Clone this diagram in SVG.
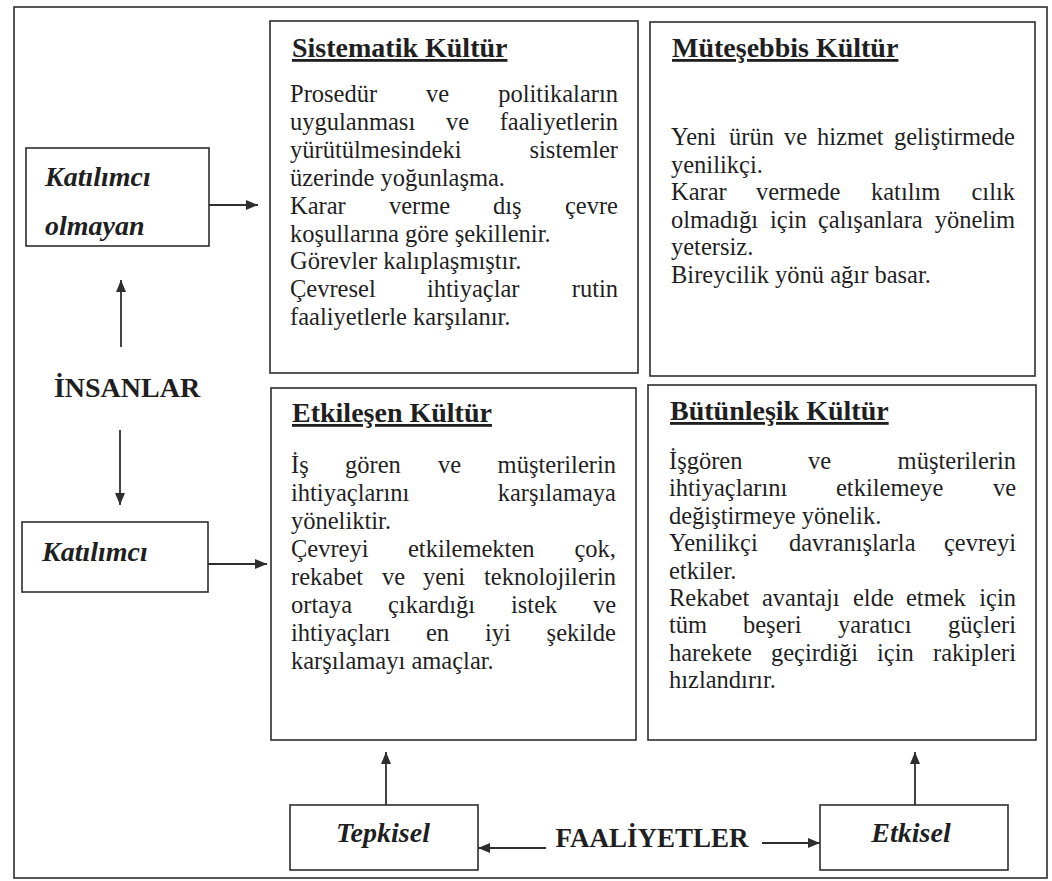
<svg xmlns="http://www.w3.org/2000/svg" width="1052" height="881" viewBox="0 0 1052 881">
  <style>
    .frame { fill: none; stroke: #2e2e2e; stroke-width: 1.6; }
    .box { fill: #ffffff; stroke: #2e2e2e; stroke-width: 1.6; }
    .conn { fill: none; stroke: #2e2e2e; stroke-width: 1.8; }
    text { font-family: "Liberation Serif", "Times New Roman", serif; fill: #1f1f1f; }
    .title { font-size: 28px; font-weight: bold; text-decoration: underline; }
    .body { font-size: 24.5px; }
    .lbl { font-size: 28px; font-weight: bold; font-style: italic; }
    .cap { font-size: 28px; font-weight: bold; }
    .end { text-anchor: end; }
    .mid { text-anchor: middle; }
  </style>
  <defs>
    <marker id="arrow" viewBox="0 0 12 10" refX="12" refY="5" markerWidth="12" markerHeight="10" markerUnits="userSpaceOnUse" orient="auto">
      <path d="M0,0 L12,5 L0,10 Z" fill="#2e2e2e"/>
    </marker>
  </defs>

  <rect width="1052" height="881" fill="#ffffff"/>
  <rect class="frame" x="14" y="7" width="1033" height="871"/>

  <!-- left column: people -->
  <g id="katilimci-olmayan">
    <rect class="box" x="26" y="148" width="183" height="98"/>
    <text class="lbl" x="45" y="186">Katılımcı</text>
    <text class="lbl" x="45" y="235">olmayan</text>
  </g>
  <g id="insanlar">
    <text class="cap mid" x="127" y="397">İNSANLAR</text>
  </g>
  <g id="katilimci">
    <rect class="box" x="22" y="522" width="186" height="70"/>
    <text class="lbl" x="42" y="561">Katılımcı</text>
  </g>

  <!-- culture quadrants -->
  <g id="sistematik">
    <rect class="box" x="270" y="21" width="368" height="352"/>
    <text class="title" x="292" y="57">Sistematik Kültür</text>
    <g class="body">
      <text class="body" x="290" y="102">Prosedür</text>
      <text class="body" x="426" y="102">ve</text>
      <text class="body end" x="618" y="102">politikaların</text>
      <text class="body" x="290" y="130">uygulanması</text>
      <text class="body" x="446" y="130">ve</text>
      <text class="body end" x="618" y="130">faaliyetlerin</text>
      <text class="body" x="290" y="158">yürütülmesindeki</text>
      <text class="body end" x="618" y="158">sistemler</text>
      <text class="body" x="290" y="186">üzerinde yoğunlaşma.</text>
      <text class="body" x="290" y="214">Karar</text>
      <text class="body" x="389" y="214">verme</text>
      <text class="body" x="493" y="214">dış</text>
      <text class="body end" x="618" y="214">çevre</text>
      <text class="body" x="290" y="242">koşullarına göre şekillenir.</text>
      <text class="body" x="290" y="269">Görevler kalıplaşmıştır.</text>
      <text class="body" x="290" y="297">Çevresel</text>
      <text class="body" x="427" y="297">ihtiyaçlar</text>
      <text class="body end" x="618" y="297">rutin</text>
      <text class="body" x="290" y="325">faaliyetlerle karşılanır.</text>
    </g>
  </g>

  <g id="mutesebbis">
    <rect class="box" x="650" y="22" width="385" height="354"/>
    <text class="title" x="672" y="57">Müteşebbis Kültür</text>
    <text class="body" x="671" y="145">Yeni</text>
    <text class="body" x="729" y="145">ürün</text>
    <text class="body" x="784" y="145">ve</text>
    <text class="body" x="817" y="145">hizmet</text>
    <text class="body end" x="1015" y="145">geliştirmede</text>
    <text class="body" x="671" y="173">yenilikçi.</text>
    <text class="body" x="671" y="200">Karar</text>
    <text class="body" x="756" y="200">vermede</text>
    <text class="body" x="871" y="200">katılım</text>
    <text class="body end" x="1015" y="200">cılık</text>
    <text class="body" x="671" y="228">olmadığı</text>
    <text class="body" x="770" y="228">için</text>
    <text class="body" x="818" y="228">çalışanlara</text>
    <text class="body end" x="1015" y="228">yönelim</text>
    <text class="body" x="671" y="255">yetersiz.</text>
    <text class="body" x="671" y="283">Bireycilik yönü ağır basar.</text>
  </g>

  <g id="etkilesen">
    <rect class="box" x="271" y="388" width="365" height="352"/>
    <text class="title" x="292" y="422">Etkileşen Kültür</text>
    <text class="body" x="291" y="473">İş</text>
    <text class="body" x="345" y="473">gören</text>
    <text class="body" x="438" y="473">ve</text>
    <text class="body end" x="616" y="473">müşterilerin</text>
    <text class="body" x="291" y="501">ihtiyaçlarını</text>
    <text class="body end" x="616" y="501">karşılamaya</text>
    <text class="body" x="291" y="529">yöneliktir.</text>
    <text class="body" x="291" y="557">Çevreyi</text>
    <text class="body" x="408" y="557">etkilemekten</text>
    <text class="body end" x="616" y="557">çok,</text>
    <text class="body" x="291" y="585">rekabet</text>
    <text class="body" x="382" y="585">ve</text>
    <text class="body" x="423" y="585">yeni</text>
    <text class="body end" x="616" y="585">teknolojilerin</text>
    <text class="body" x="291" y="613">ortaya</text>
    <text class="body" x="388" y="613">çıkardığı</text>
    <text class="body" x="511" y="613">istek</text>
    <text class="body end" x="616" y="613">ve</text>
    <text class="body" x="291" y="641">ihtiyaçları</text>
    <text class="body" x="426" y="641">en</text>
    <text class="body" x="485" y="641">iyi</text>
    <text class="body end" x="616" y="641">şekilde</text>
    <text class="body" x="291" y="669">karşılamayı amaçlar.</text>
  </g>

  <g id="butunlesik">
    <rect class="box" x="648" y="385" width="388" height="355"/>
    <text class="title" x="670" y="420">Bütünleşik Kültür</text>
    <text class="body" x="669" y="469">İşgören</text>
    <text class="body" x="808" y="469">ve</text>
    <text class="body end" x="1016" y="469">müşterilerin</text>
    <text class="body" x="669" y="496">ihtiyaçlarını</text>
    <text class="body" x="836" y="496">etkilemeye</text>
    <text class="body end" x="1016" y="496">ve</text>
    <text class="body" x="669" y="524">değiştirmeye yönelik.</text>
    <text class="body" x="669" y="551">Yenilikçi</text>
    <text class="body" x="789" y="551">davranışlarla</text>
    <text class="body end" x="1016" y="551">çevreyi</text>
    <text class="body" x="669" y="579">etkiler.</text>
    <text class="body" x="669" y="606">Rekabet</text>
    <text class="body" x="762" y="606">avantajı</text>
    <text class="body" x="853" y="606">elde</text>
    <text class="body" x="906" y="606">etmek</text>
    <text class="body end" x="1016" y="606">için</text>
    <text class="body" x="669" y="633">tüm</text>
    <text class="body" x="743" y="633">beşeri</text>
    <text class="body" x="838" y="633">yaratıcı</text>
    <text class="body end" x="1016" y="633">güçleri</text>
    <text class="body" x="669" y="661">harekete</text>
    <text class="body" x="771" y="661">geçirdiği</text>
    <text class="body" x="877" y="661">için</text>
    <text class="body end" x="1016" y="661">rakipleri</text>
    <text class="body" x="669" y="688">hızlandırır.</text>
  </g>

  <!-- bottom row: activities -->
  <g id="tepkisel">
    <rect class="box" x="290" y="805" width="188" height="65"/>
    <text class="lbl mid" x="383" y="842">Tepkisel</text>
  </g>
  <g id="faaliyetler">
    <text class="cap mid" x="652" y="847" style="font-size:27px">FAALİYETLER</text>
  </g>
  <g id="etkisel">
    <rect class="box" x="820" y="805" width="188" height="65"/>
    <text class="lbl mid" x="911" y="842">Etkisel</text>
  </g>

  <!-- connectors -->
  <g id="connectors">
    <line class="conn" x1="209" y1="205" x2="258" y2="205" marker-end="url(#arrow)"/>
    <line class="conn" x1="121" y1="347" x2="121" y2="280" marker-end="url(#arrow)"/>
    <line class="conn" x1="120" y1="430" x2="120" y2="505" marker-end="url(#arrow)"/>
    <line class="conn" x1="208" y1="564" x2="267" y2="564" marker-end="url(#arrow)"/>
    <line class="conn" x1="386" y1="805" x2="386" y2="752" marker-end="url(#arrow)"/>
    <line class="conn" x1="915" y1="805" x2="915" y2="752" marker-end="url(#arrow)"/>
    <line class="conn" x1="546" y1="848" x2="478" y2="848" marker-end="url(#arrow)"/>
    <line class="conn" x1="762" y1="843" x2="820" y2="843" marker-end="url(#arrow)"/>
  </g>
</svg>
